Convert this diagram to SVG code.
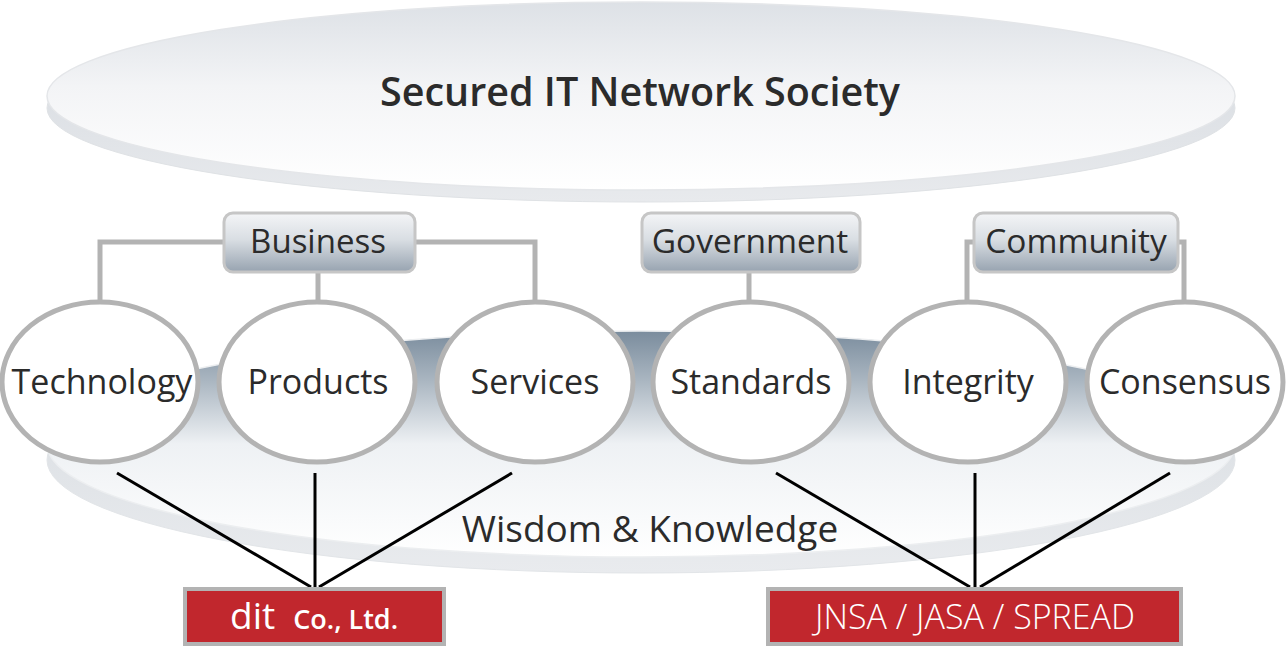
<svg xmlns="http://www.w3.org/2000/svg" width="1286" height="647" viewBox="0 0 1286 647">
<defs>
<linearGradient id="topFace" x1="0" y1="0" x2="0" y2="1">
<stop offset="0" stop-color="#dde1e6"/><stop offset="0.45" stop-color="#f3f4f6"/><stop offset="1" stop-color="#ffffff"/>
</linearGradient>
<linearGradient id="topRim" x1="0" y1="0" x2="0" y2="1">
<stop offset="0" stop-color="#d3d8de"/><stop offset="1" stop-color="#e8eaed"/>
</linearGradient>
<linearGradient id="botFace" x1="0" y1="0" x2="0" y2="1">
<stop offset="0" stop-color="#7a8c9d"/><stop offset="0.22" stop-color="#aab6c1"/><stop offset="0.5" stop-color="#eef1f4"/><stop offset="1" stop-color="#ffffff"/>
</linearGradient>
<linearGradient id="botRim" x1="0" y1="0" x2="0" y2="1">
<stop offset="0" stop-color="#d6dbe0"/><stop offset="1" stop-color="#e9ebee"/>
</linearGradient>
<linearGradient id="hdr" x1="0" y1="0" x2="0" y2="1">
<stop offset="0" stop-color="#f4f5f7"/><stop offset="0.45" stop-color="#d9dee3"/><stop offset="1" stop-color="#97a3b0"/>
</linearGradient>
<style>
.t{font-family:"Open Sans","Noto Sans","Liberation Sans",sans-serif;fill:#2b2b2b;text-anchor:middle}
.c{fill:#ffffff;stroke:#b3b3b3;stroke-width:5}
.h{fill:url(#hdr);stroke:#c6c6c6;stroke-width:3}
.g{fill:none;stroke:#b3b3b3;stroke-width:5}
.k{stroke:#000000;stroke-width:3}
.rb{fill:#c1272d;stroke:#b3b3b3;stroke-width:4}
.w{font-family:"Open Sans","Noto Sans","Liberation Sans",sans-serif;fill:#ffffff}
</style>
</defs>
<g id="top-disc">
<ellipse cx="641" cy="108" rx="594" ry="94" fill="url(#topRim)" stroke="#dfe2e5" stroke-width="1"/>
<ellipse cx="641" cy="96" rx="594" ry="94" fill="url(#topFace)" stroke="#e4e6e9" stroke-width="1.5"/>
<text class="t" x="640" y="106" font-size="39.5" font-weight="600">Secured IT Network Society</text>
</g>
<g id="bottom-disc">
<ellipse cx="641" cy="460" rx="594" ry="113" fill="url(#botRim)" stroke="#e2e5e8" stroke-width="1"/>
<ellipse cx="641" cy="444" rx="594" ry="113" fill="url(#botFace)" stroke="#eceef0" stroke-width="1.5"/>
<text class="t" x="650" y="542" font-size="37">Wisdom &amp; Knowledge</text>
</g>
<g id="connectors">
<path class="g" d="M100 302V242H224M415 242H535V302M318 272V302"/>
<path class="g" d="M749 272V302"/>
<path class="g" d="M974 242H967V302M1178 242H1184V302"/>
<line class="k" x1="117" y1="473" x2="311" y2="587"/>
<line class="k" x1="315" y1="473" x2="315" y2="587"/>
<line class="k" x1="512" y1="473" x2="319" y2="587"/>
<line class="k" x1="776" y1="473" x2="970" y2="587"/>
<line class="k" x1="975" y1="473" x2="975" y2="587"/>
<line class="k" x1="1170" y1="473" x2="980" y2="587"/>
</g>
<g id="business"><rect class="h" x="224" y="213" width="191" height="59" rx="9"/><text class="t" x="318" y="253" font-size="33">Business</text></g>
<g id="government"><rect class="h" x="642" y="213" width="218" height="59" rx="9"/><text class="t" x="750" y="253" font-size="33.5">Government</text></g>
<g id="community"><rect class="h" x="974" y="213" width="204" height="59" rx="9"/><text class="t" x="1076" y="253" font-size="33.5">Community</text></g>
<g id="technology"><ellipse class="c" cx="100" cy="382" rx="98" ry="80"/><text class="t" x="102" y="394" font-size="34">Technology</text></g>
<g id="products"><ellipse class="c" cx="317" cy="382" rx="98" ry="80"/><text class="t" x="318" y="394" font-size="34">Products</text></g>
<g id="services"><ellipse class="c" cx="535" cy="382" rx="98" ry="80"/><text class="t" x="535" y="394" font-size="34">Services</text></g>
<g id="standards"><ellipse class="c" cx="751" cy="382" rx="98" ry="80"/><text class="t" x="751" y="394" font-size="34">Standards</text></g>
<g id="integrity"><ellipse class="c" cx="968" cy="382" rx="98" ry="80"/><text class="t" x="968" y="394" font-size="34">Integrity</text></g>
<g id="consensus"><ellipse class="c" cx="1185" cy="382" rx="98" ry="80"/><text class="t" x="1185" y="394" font-size="34">Consensus</text></g>
<g id="dit"><rect class="rb" x="185" y="589" width="259" height="55"/><text class="w" x="230" y="629"><tspan font-size="37" font-weight="500">dit</tspan><tspan font-size="27" font-weight="600" dx="18">Co., Ltd.</tspan></text></g>
<g id="jnsa"><rect class="rb" x="768" y="589" width="413" height="55"/><text class="w" x="975" y="629" font-size="34" font-weight="300" text-anchor="middle">JNSA / JASA / SPREAD</text></g>
</svg>
